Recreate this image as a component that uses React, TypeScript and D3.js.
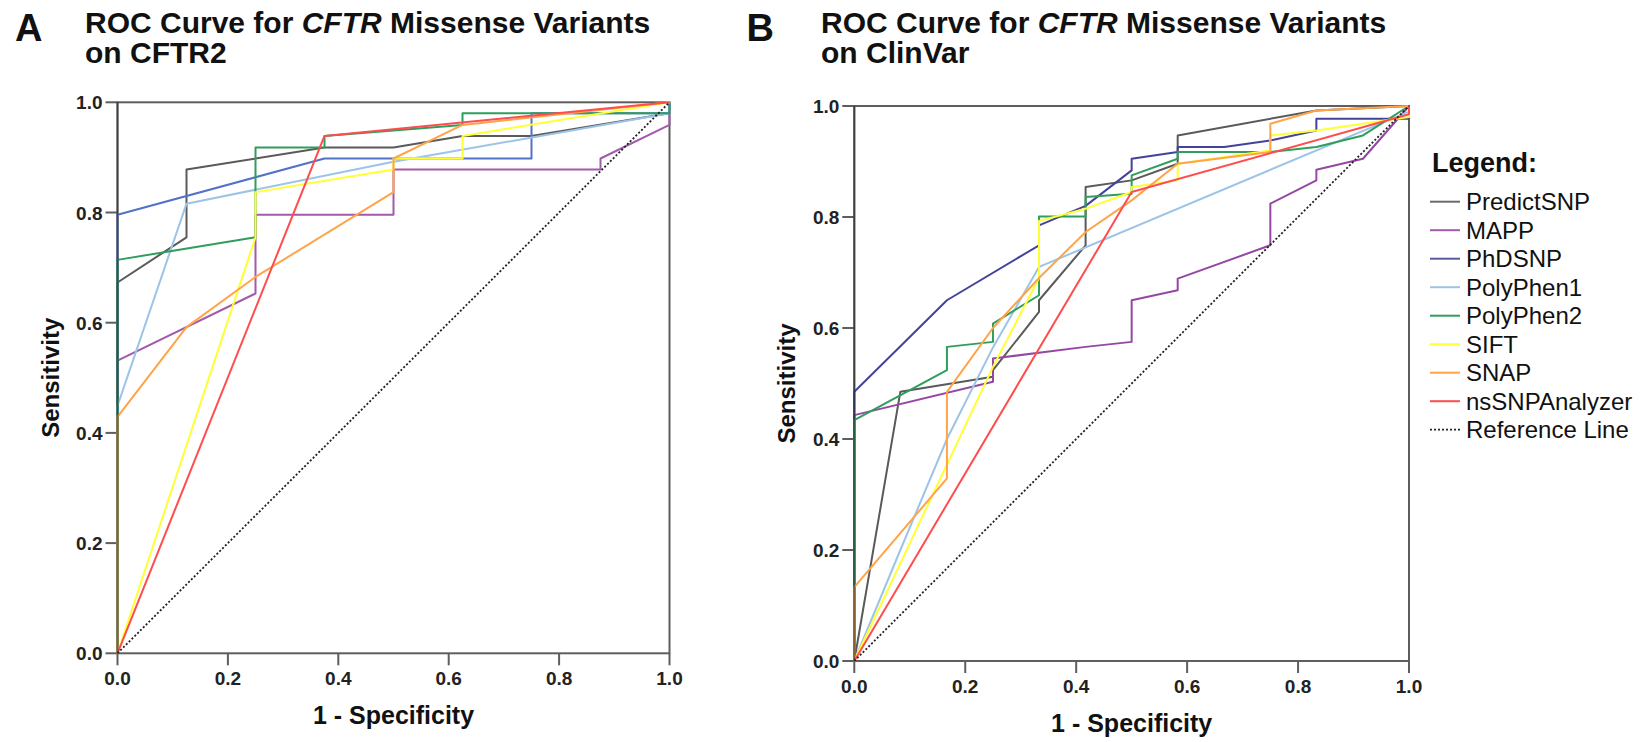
import React from "react";
import * as d3 from "d3";

type Pt = [number, number];

// ---------- DATA (FPR, TPR) ----------
const seriesNames = ["PredictSNP", "MAPP", "PhDSNP", "PolyPhen1", "PolyPhen2", "SIFT", "SNAP", "nsSNPAnalyzer"];

// Panel A: CFTR2
const cftr2PredictSNP: Pt[] = [[0, 0], [0, 0.673], [0.125, 0.755], [0.125, 0.878], [0.375, 0.918], [0.5, 0.918], [0.625, 0.939], [0.75, 0.939], [1, 0.98], [1, 1]];
const cftr2MAPP: Pt[] = [[0, 0], [0, 0.531], [0.25, 0.653], [0.25, 0.796], [0.5, 0.796], [0.5, 0.878], [0.875, 0.878], [0.875, 0.898], [1, 0.959], [1, 1]];
const cftr2PhDSNP: Pt[] = [[0, 0], [0, 0.796], [0.375, 0.898], [0.75, 0.898], [0.75, 0.98], [1, 0.98], [1, 1]];
const cftr2PolyPhen1: Pt[] = [[0, 0], [0, 0.449], [0.125, 0.816], [0.5, 0.892], [1, 0.98], [1, 1]];
const cftr2PolyPhen2: Pt[] = [[0, 0], [0, 0.714], [0.25, 0.755], [0.25, 0.918], [0.375, 0.918], [0.375, 0.939], [0.625, 0.959], [0.625, 0.98], [1, 0.98], [1, 1]];
const cftr2SIFT: Pt[] = [[0, 0], [0.25, 0.755], [0.25, 0.837], [0.5, 0.878], [0.5, 0.898], [0.625, 0.898], [0.625, 0.939], [1, 1]];
const cftr2SNAP: Pt[] = [[0, 0], [0, 0.429], [0.125, 0.592], [0.25, 0.683], [0.5, 0.837], [0.5, 0.898], [0.625, 0.959], [1, 1]];
const cftr2NsSNPAnalyzer: Pt[] = [[0, 0], [0.375, 0.939], [1, 1]];

// Panel B: ClinVar
const clinvarPredictSNP: Pt[] = [[0, 0], [0.083, 0.485], [0.25, 0.512], [0.25, 0.524], [0.333, 0.629], [0.333, 0.65], [0.417, 0.749], [0.417, 0.854], [0.5, 0.866], [0.583, 0.896], [0.583, 0.947], [0.833, 0.992], [1, 1]];
const clinvarMAPP: Pt[] = [[0, 0], [0, 0.443], [0.25, 0.503], [0.25, 0.545], [0.417, 0.566], [0.5, 0.575], [0.5, 0.65], [0.583, 0.668], [0.583, 0.689], [0.75, 0.749], [0.75, 0.824], [0.833, 0.866], [0.833, 0.885], [0.917, 0.905], [1, 1]];
const clinvarPhDSNP: Pt[] = [[0, 0], [0, 0.485], [0.167, 0.65], [0.333, 0.749], [0.333, 0.785], [0.417, 0.82], [0.5, 0.884], [0.5, 0.905], [0.583, 0.917], [0.583, 0.926], [0.667, 0.926], [0.75, 0.938], [0.833, 0.956], [0.833, 0.977], [1, 0.977], [1, 1]];
const clinvarPolyPhen1: Pt[] = [[0, 0], [0.083, 0.2], [0.167, 0.4], [0.25, 0.565], [0.333, 0.71], [1, 0.99], [1, 1]];
const clinvarPolyPhen2: Pt[] = [[0, 0], [0, 0.434], [0.167, 0.524], [0.167, 0.566], [0.25, 0.575], [0.25, 0.608], [0.333, 0.659], [0.333, 0.801], [0.417, 0.801], [0.417, 0.836], [0.5, 0.842], [0.5, 0.875], [0.583, 0.905], [0.583, 0.917], [0.75, 0.917], [0.833, 0.926], [0.917, 0.947], [1, 1]];
const clinvarSIFT: Pt[] = [[0, 0], [0.25, 0.53], [0.333, 0.69], [0.333, 0.793], [0.417, 0.815], [0.5, 0.845], [0.5, 0.854], [0.583, 0.866], [0.583, 0.896], [0.75, 0.92], [0.75, 0.947], [0.833, 0.956], [1, 0.98], [1, 1]];
const clinvarSNAP: Pt[] = [[0, 0], [0, 0.133], [0.167, 0.329], [0.167, 0.485], [0.25, 0.6], [0.333, 0.69], [0.417, 0.773], [0.5, 0.83], [0.583, 0.896], [0.75, 0.917], [0.75, 0.968], [0.833, 0.992], [1, 1]];
const clinvarNsSNPAnalyzer: Pt[] = [[0, 0], [0.5, 0.845], [1, 0.985], [1, 1]];

const referenceLine: Pt[] = [[0, 0], [1, 1]];
const axisTicks = [0, 0.2, 0.4, 0.6, 0.8, 1.0];

const colorsA = ["#5a5a5a", "#a25aaa", "#5272c8", "#9cc4e8", "#2f9e5c", "#ffff33", "#ffa448", "#ff4d4d"];
const colorsB = ["#5a5a5a", "#9548a2", "#43439a", "#9cc4e8", "#2f9e5c", "#ffff33", "#ffa448", "#ff4d4d"];
const legendColors = ["#6a6a6a", "#a25aaa", "#5a5a9e", "#9cc4e8", "#2f9e5c", "#ffff33", "#ffa448", "#ff4d4d"];

const FONT = "'Liberation Sans', Arial, Helvetica, sans-serif";

type PanelProps = {
  x0: number; x1: number; yTop: number; yBottom: number;
  series: Pt[][]; colors: string[];
  letter: string; letterX: number; titleX: number; title2: string;
};

function Panel(p: PanelProps) {
  const x = d3.scaleLinear().domain([0, 1]).range([p.x0, p.x1]);
  const y = d3.scaleLinear().domain([0, 1]).range([p.yBottom, p.yTop]);
  const line = d3.line<Pt>().x((d) => x(d[0])).y((d) => y(d[1]));
  const fmt = d3.format(".1f");
  const axisColor = "#5e5e5e";
  const cx = (p.x0 + p.x1) / 2;
  const cy = (p.yTop + p.yBottom) / 2;
  return (
    <g>
      <text x={p.letterX} y={41} fontFamily={FONT} fontWeight="bold" fontSize={38} fill="#111">{p.letter}</text>
      <text x={p.titleX} y={33} fontFamily={FONT} fontWeight="bold" fontSize={30} fill="#111">
        ROC Curve for <tspan fontStyle="italic">CFTR</tspan> Missense Variants
      </text>
      <text x={p.titleX} y={63} fontFamily={FONT} fontWeight="bold" fontSize={30} fill="#111">{p.title2}</text>

      {/* frame */}
      <rect x={p.x0} y={p.yTop} width={p.x1 - p.x0} height={p.yBottom - p.yTop} fill="none" stroke={axisColor} strokeWidth={2} />
      {/* y ticks */}
      {axisTicks.map((t) => (
        <g key={"y" + t}>
          <line x1={p.x0 - 12} x2={p.x0} y1={y(t)} y2={y(t)} stroke={axisColor} strokeWidth={2} />
          <text x={p.x0 - 15} y={y(t) + 7} textAnchor="end" fontFamily={FONT} fontWeight="bold" fontSize={19} fill="#222">{fmt(t)}</text>
        </g>
      ))}
      {/* x ticks */}
      {axisTicks.map((t) => (
        <g key={"x" + t}>
          <line x1={x(t)} x2={x(t)} y1={p.yBottom} y2={p.yBottom + 12} stroke={axisColor} strokeWidth={2} />
          <text x={x(t)} y={p.yBottom + 32} textAnchor="middle" fontFamily={FONT} fontWeight="bold" fontSize={19} fill="#222">{fmt(t)}</text>
        </g>
      ))}
      <text x={cx} y={p.yBottom + 71} textAnchor="middle" fontFamily={FONT} fontWeight="bold" fontSize={25} fill="#111">1 - Specificity</text>
      <text transform={`translate(${p.x0 - 59},${cy}) rotate(-90)`} textAnchor="middle" fontFamily={FONT} fontWeight="bold" fontSize={24} fill="#111">Sensitivity</text>

      {p.series.map((s, i) => (
        <path key={i} d={line(s) || ""} fill="none" stroke={p.colors[i]} strokeWidth={2} strokeLinejoin="round" />
      ))}
      <path d={line(referenceLine) || ""} fill="none" stroke="#222" strokeWidth={1.8} strokeDasharray="2 2" />
      {/* overlapping curve segments along the y axis appear darkened in the original */}
      <line x1={p.x0} x2={p.x0} y1={p.yBottom} y2={p.yTop} stroke="#1e2a22" strokeOpacity={0.55} strokeWidth={2} />
    </g>
  );
}

export default function App() {
  const seriesA = [cftr2PredictSNP, cftr2MAPP, cftr2PhDSNP, cftr2PolyPhen1, cftr2PolyPhen2, cftr2SIFT, cftr2SNAP, cftr2NsSNPAnalyzer];
  const seriesB = [clinvarPredictSNP, clinvarMAPP, clinvarPhDSNP, clinvarPolyPhen1, clinvarPolyPhen2, clinvarSIFT, clinvarSNAP, clinvarNsSNPAnalyzer];
  const legendX = 1430;
  const legendY0 = 201.7;
  const rowH = 28.5;
  return (
    <svg width={1641} height={742} style={{ position: "absolute", left: 0, top: 0, background: "#fff" }}>
      <rect width={1641} height={742} fill="#fff" />
      <Panel x0={117.5} x1={669.5} yTop={102.3} yBottom={653.3} series={seriesA} colors={colorsA}
        letter="A" letterX={15} titleX={85} title2="on CFTR2" />
      <Panel x0={854.3} x1={1409} yTop={106} yBottom={661} series={seriesB} colors={colorsB}
        letter="B" letterX={746.5} titleX={821} title2="on ClinVar" />
      <g>
        <text x={1432} y={171.7} fontFamily={FONT} fontWeight="bold" fontSize={27} fill="#111">Legend:</text>
        {seriesNames.map((n, i) => (
          <g key={n}>
            <line x1={legendX} x2={legendX + 30} y1={legendY0 + i * rowH} y2={legendY0 + i * rowH} stroke={legendColors[i]} strokeWidth={2} />
            <text x={legendX + 36} y={legendY0 + i * rowH + 8.5} fontFamily={FONT} fontSize={24} fill="#111">{n}</text>
          </g>
        ))}
        <line x1={legendX} x2={legendX + 30} y1={legendY0 + 8 * rowH} y2={legendY0 + 8 * rowH} stroke="#222" strokeWidth={1.8} strokeDasharray="2 2" />
        <text x={legendX + 36} y={legendY0 + 8 * rowH + 8.5} fontFamily={FONT} fontSize={24} fill="#111">Reference Line</text>
      </g>
    </svg>
  );
}
